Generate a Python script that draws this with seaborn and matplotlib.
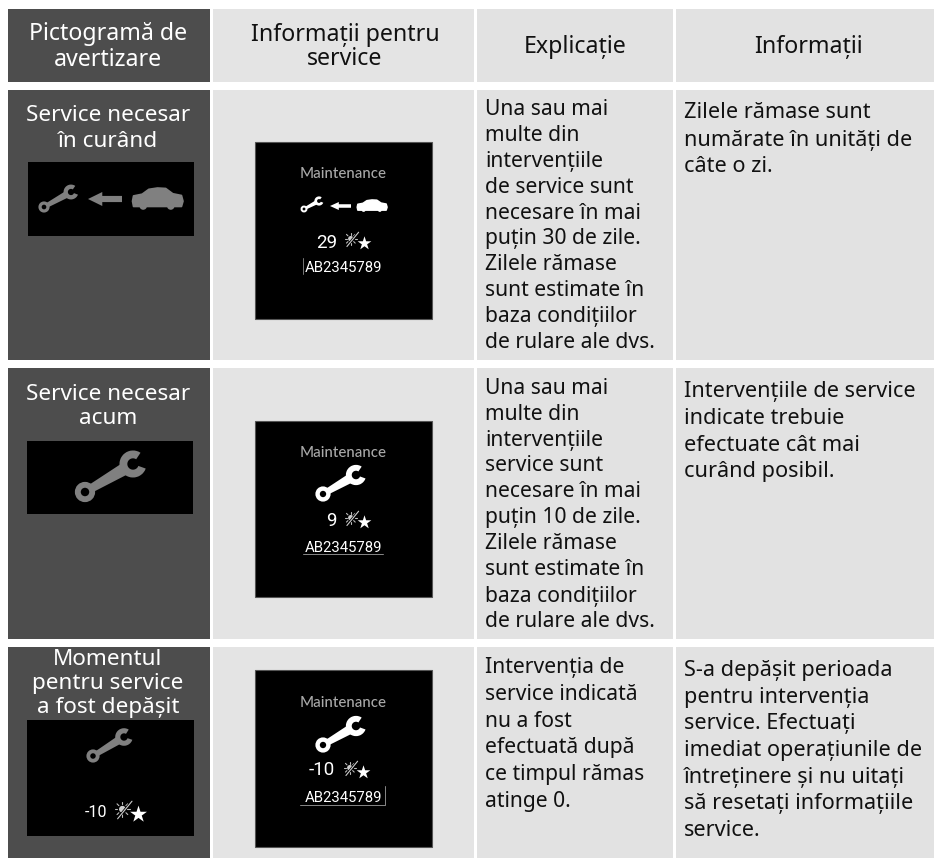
import numpy as np
import matplotlib
matplotlib.use("Agg")
import matplotlib.pyplot as plt
from matplotlib.patches import Rectangle, Circle, Wedge, Polygon
import seaborn as sns

# ---- content -------------------------------------------------------------
headers = [["Pictogramă de", "avertizare"], ["Informații pentru", "service"], ["Explicație"], ["Informații"]]
col1_titles = [["Service necesar", "în curând"], ["Service necesar", "acum"],
               ["Momentul", "pentru service", "a fost depășit"]]
col3_text = [
    ["Una sau mai", "multe din", "intervențiile", "de service sunt", "necesare în mai", "puțin 30 de zile.",
     "Zilele rămase", "sunt estimate în", "baza condițiilor", "de rulare ale dvs."],
    ["Una sau mai", "multe din", "intervențiile", "service sunt", "necesare în mai", "puțin 10 de zile.",
     "Zilele rămase", "sunt estimate în", "baza condițiilor", "de rulare ale dvs."],
    ["Intervenția de", "service indicată", "nu a fost", "efectuată după", "ce timpul rămas", "atinge 0."],
]
col4_text = [
    ["Zilele rămase sunt", "numărate în unități de", "câte o zi."],
    ["Intervențiile de service", "indicate trebuie", "efectuate cât mai", "curând posibil."],
    ["S-a depășit perioada", "pentru intervenția", "service. Efectuați", "imediat operațiunile de",
     "întreținere și nu uitați", "să resetați informațiile", "service."],
]
display_title = "Maintenance"
display_code = "AB2345789"
display_days = ["29", "9", "-10"]

DARK, LIGHT2, LIGHT3 = "#4d4d4d", "#e4e4e4", "#e2e2e2"
GREY = "#808080"
FONT = "Noto Sans"
FS_HEAD, FS_COL1, FS_COL3, FS_COL4 = 16.7, 16.2, 15.2, 15.6

sns.set_theme(style="white", rc={"font.family": [FONT, "DejaVu Sans"]})
fig = plt.figure(figsize=(9.34, 8.58), dpi=100, facecolor="white")
ax = fig.add_axes([0, 0, 1, 1])
ax.set_xlim(0, 934)
ax.set_ylim(858, 0)
ax.axis("off")

cols = [(8, 210), (213, 474), (477, 673), (676, 934)]
rows = [(9, 82), (90, 360), (368, 639), (647, 858)]
for r in rows:
    for i, c in enumerate(cols):
        col = DARK if i == 0 else (LIGHT2 if i == 1 else LIGHT3)
        ax.add_patch(Rectangle((c[0], r[0]), c[1] - c[0], r[1] - r[0], fc=col, ec="none", zorder=1))


def lines(x, ys, txt, fs, color="#111111", ha="left", **kw):
    for y, t in zip(ys, txt):
        ax.text(x, y, t, color=color, ha=ha, va="baseline", fontsize=fs, zorder=5, **kw)


def box(x0, y0, x1, y1, edge="none"):
    ax.add_patch(Rectangle((x0, y0), x1 - x0, y1 - y0, fc="black", ec=edge, lw=0.8, zorder=2))


def wrench(ring, head, r, color):
    """ring/head: centres, r: ring outer radius."""
    ring, head = np.array(ring, float), np.array(head, float)
    d = head - ring
    u = d / np.hypot(*d)
    n = np.array([-u[1], u[0]])
    a0 = ring + u * r * 0.8
    a1 = head - u * r * 0.9
    ax.add_patch(Polygon([a0 + n * r * .42, a1 + n * r * .62, a1 - n * r * .62, a0 - n * r * .42],
                         fc=color, ec="none", zorder=3))
    ax.add_patch(Circle(ring, r * 0.72, fc="none", ec=color, lw=r * 0.42, zorder=3))
    ang = np.degrees(np.arctan2(u[1], u[0]))
    hr = r * 1.35
    ax.add_patch(Wedge(head, hr, ang + 12 + 38, ang + 12 + 322, width=hr * 0.58, fc=color, ec="none", zorder=3))


def arrow(x0, x1, y, h, color):
    hl = (x1 - x0) * 0.42
    t = h * 0.22
    ax.add_patch(Polygon([(x0, y), (x0 + hl, y - h / 2), (x0 + hl, y - t), (x1, y - t), (x1, y + t),
                          (x0 + hl, y + t), (x0 + hl, y + h / 2)], fc=color, ec="none", zorder=3))


def car(x0, x1, ytop, ybot, color):
    w, h = x1 - x0, ybot - ytop
    body = [(.01, .6), (.03, .36), (.2, .28), (.33, .06), (.5, 0), (.66, .02), (.8, .26), (.97, .34), (1, .6),
            (.97, .84), (.03, .84)]
    ax.add_patch(Polygon([(x0 + a * w, ytop + b * h) for a, b in body], fc=color, ec=color, lw=1.2,
                         joinstyle="round", zorder=3))
    for fx in (.22, .76):
        ax.add_patch(Circle((x0 + fx * w, ytop + .82 * h), h * .17, fc=color, ec="none", zorder=3))


def sun_star(cx, cy, s, color="white"):
    """sun with slash at left, star at lower right; s = overall half-height."""
    sx, sy = cx - s * .95, cy - s * .35
    for a in np.arange(0, 360, 45):
        c, d = np.cos(np.radians(a)), np.sin(np.radians(a))
        ax.plot([sx + c * s * .62, sx + c * s * .95], [sy + d * s * .62, sy + d * s * .95], color="#bbbbbb",
                lw=.8, zorder=3)
    ax.add_patch(Circle((sx, sy), s * .42, fc="#cccccc", ec="none", zorder=3))
    ax.plot([sx - s * .7, sx + s * 1.1], [sy + s * 1.3, sy - s * .9], color="black", lw=1.8, zorder=3)
    ax.plot([sx - s * .6, sx + s * 1.2], [sy + s * 1.2, sy - s * 1.0], color="#cccccc", lw=.8, zorder=3)
    sns.scatterplot(x=[cx + s * 1.0], y=[cy + s * .3], marker="*", color=color, s=(s * 1.6) ** 2, linewidth=0,
                    ax=ax, zorder=4, legend=False)


# ---- headers -------------------------------------------------------------
lines(108, [40, 66], headers[0], FS_HEAD, color="white", ha="center")
lines(345, [41, 65], headers[1], FS_HEAD, ha="center")
lines(575, [53], headers[2], FS_HEAD, ha="center")
lines(808, [53], headers[3], FS_HEAD, ha="center")

# ---- first column --------------------------------------------------------
lines(108, [121, 147], col1_titles[0], FS_COL1, color="white", ha="center")
lines(108, [400, 424], col1_titles[1], FS_COL1, color="white", ha="center")
lines(108, [665, 689, 713], col1_titles[2], FS_COL1, color="white", ha="center")

box(28, 162, 194, 236)
wrench((44, 207), (71, 192), 5.5, GREY)
arrow(88, 122, 199, 14, GREY)
car(132, 183, 188, 210, GREY)

box(27, 441, 193, 514)
wrench((85, 492), (133, 464), 10, GREY)

box(27, 720, 194, 836)
wrench((93, 756), (124, 737), 6.5, GREY)
lines(96, [817], [display_days[2]], 11.5, color="white", ha="center", family="Roboto")
sun_star(130, 812, 8)

# ---- displays ------------------------------------------------------------
box(255, 142, 432, 319, edge="#555555")
lines(343.5, [178], [display_title], 10.8, color="#a9a9a9", ha="center", family="Lato", fontweight="medium")
wrench((304, 209), (319, 201), 3.4, "white")
arrow(330, 351, 206, 8, "white")
car(357, 387, 200, 212, "white")
lines(327, [248], [display_days[0]], 13.5, color="white", ha="center", family="Roboto")
sun_star(357, 241, 6.5)
lines(343.5, [272], [display_code], 10.7, color="white", ha="center", family="Roboto")
ax.plot([303, 303], [258, 274], color="#777777", lw=.7, zorder=4)

box(255, 421, 432, 597, edge="#555555")
lines(343.5, [457], [display_title], 10.8, color="#a9a9a9", ha="center", family="Lato", fontweight="medium")
wrench((323, 494), (356, 475), 7.5, "white")
lines(331, [526], [display_days[1]], 13.5, color="white", ha="center", family="Roboto")
sun_star(357, 520, 6.5)
lines(343.5, [552], [display_code], 10.7, color="white", ha="center", family="Roboto")
ax.plot([303, 383], [553.5, 553.5], color="#888888", lw=.7, zorder=4)

box(255, 670, 432, 847, edge="#555555")
lines(343.5, [707], [display_title], 10.8, color="#a9a9a9", ha="center", family="Lato", fontweight="medium")
wrench((323, 745), (356, 726), 7.5, "white")
lines(322, [775], [display_days[2]], 13.5, color="white", ha="center", family="Roboto")
sun_star(356, 770, 6.5)
lines(343.5, [802], [display_code], 10.7, color="white", ha="center", family="Roboto")
ax.plot([300, 385, 385], [805, 805, 786], color="#888888", lw=.7, zorder=4)

# ---- text columns --------------------------------------------------------
lines(485, [115, 141, 167, 193, 219, 244, 270, 296, 322, 348], col3_text[0], FS_COL3)
lines(485, [394, 420, 446, 471, 497, 523, 549, 575, 602, 627], col3_text[1], FS_COL3)
lines(485, [673, 700, 727, 753, 780, 807], col3_text[2], FS_COL3)
lines(684, [118, 146, 172], col4_text[0], FS_COL4)
lines(684, [397, 424, 451, 477], col4_text[1], FS_COL4)
lines(684, [676, 703, 729, 756, 783, 809, 836], col4_text[2], FS_COL4)

fig.savefig("out.png", dpi=100, facecolor="white")
